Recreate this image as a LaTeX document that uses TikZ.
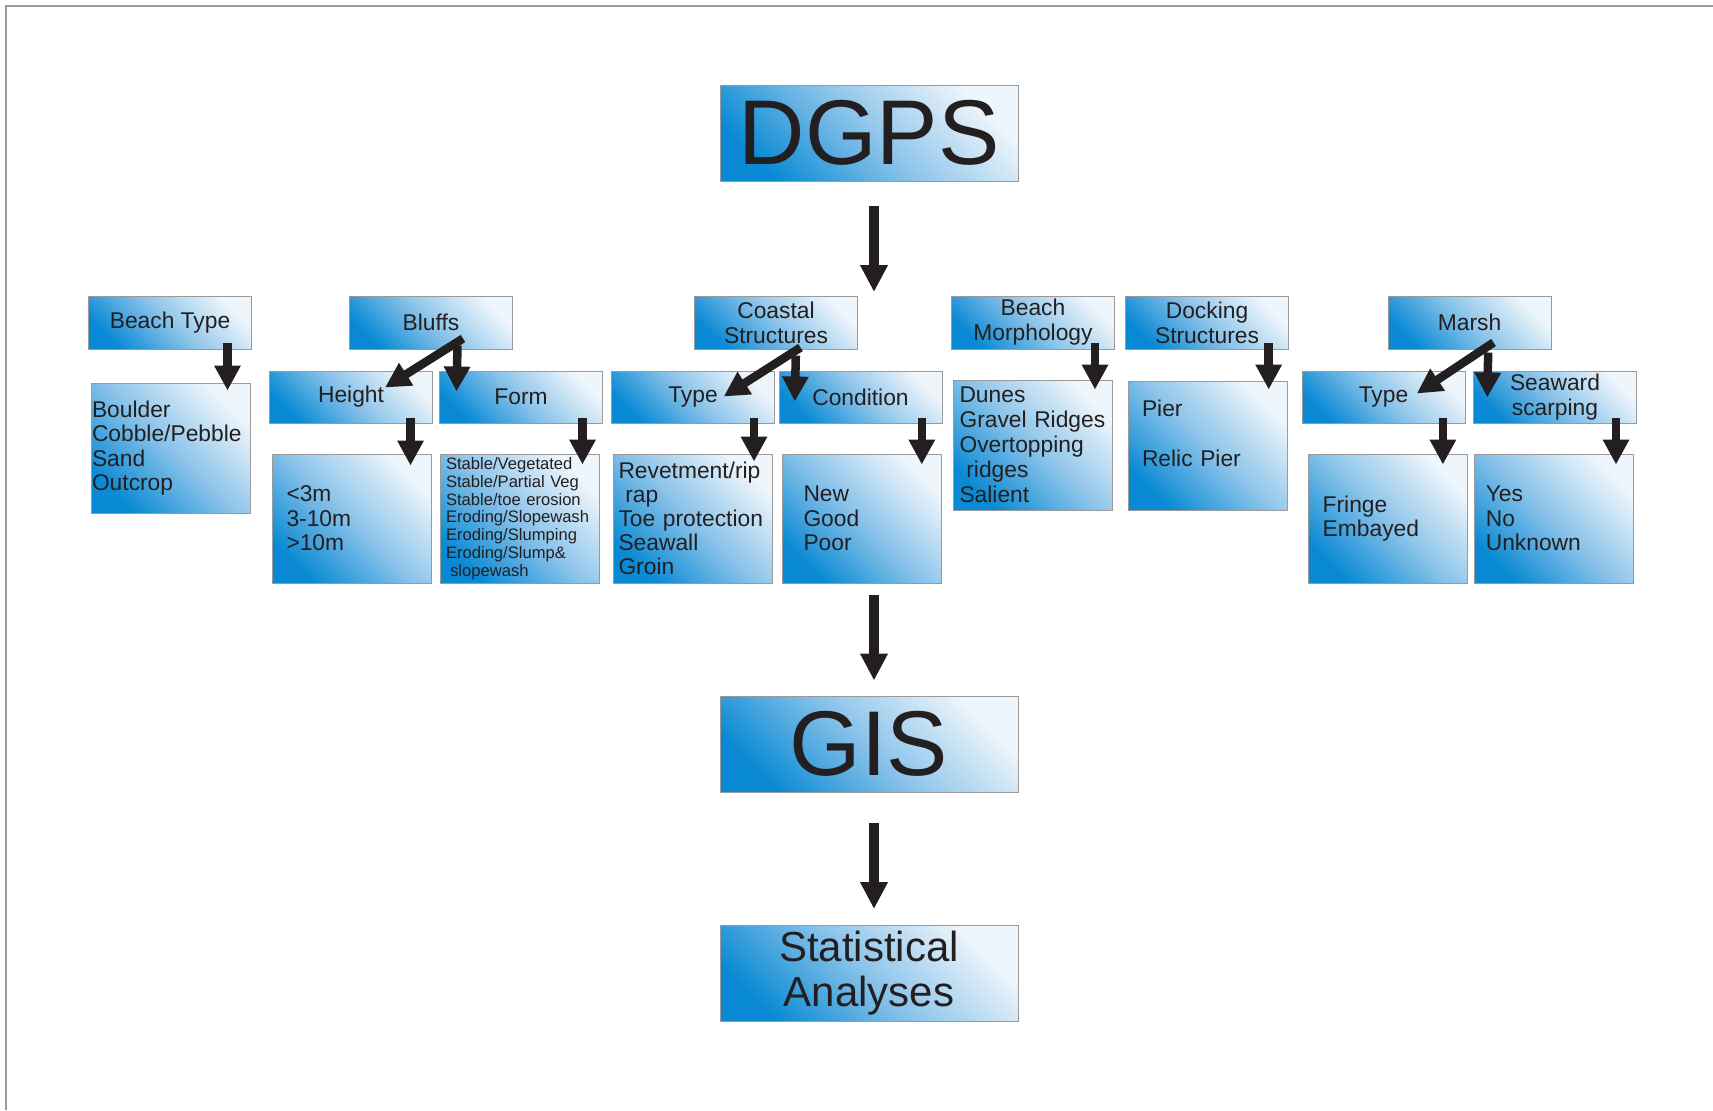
\documentclass[tikz,border=0pt]{standalone}
\usepackage{fontspec}
\setmainfont{Liberation Sans}
\usepackage{xcolor}
\usetikzlibrary{arrows.meta}
\definecolor{BoxDark}{HTML}{0A8AD4}
\definecolor{BoxMid}{HTML}{8CC4EA}
\definecolor{BoxLight}{HTML}{EEF5FB}
\definecolor{BoxEdge}{HTML}{9A9A9A}
\definecolor{InkDark}{HTML}{231F20}
\newcommand{\fsz}[2]{\fontsize{#1}{#2}\selectfont}

\begin{document}
\begin{tikzpicture}[x=0.5pt, y=-0.5pt,
      bx/.style={rectangle, draw=BoxEdge, line width=0.5pt,
                 bottom color=BoxDark, top color=BoxLight, middle color=BoxMid,
                 shading angle=-45, text=InkDark, inner sep=0pt},
      big/.style={bx, minimum width=149pt, minimum height=48pt},
      hd/.style={bx, align=center, font=\fsz{11.4pt}{12.5pt},
                 minimum width=81.5pt, minimum height=26.5pt},
      sub/.style={hd, minimum height=26pt},
      ct/.style={bx, align=left, font=\fsz{11.4pt}{12.3pt},
                 minimum width=79.5pt, minimum height=64.5pt},
      ar/.style={-{Triangle[width=12.5pt,length=12.5pt]}, InkDark, line width=4.25pt},
      bigar/.style={-{Triangle[width=13pt,length=13.5pt]}, InkDark, line width=5pt},
    ]
      \useasboundingbox (0,0) rectangle (1713,1110);
      \draw[BoxEdge, line width=1pt] (6,1110) -- (6,6) -- (1713,6);

      \node[big, font=\fsz{46pt}{48pt}] (dgps) at (869,133) {DGPS};
      \node[big, font=\fsz{46pt}{48pt}] (gis) at (869,744) {GIS};
      \node[big, align=center, font=\fsz{21pt}{22.5pt}] (stat) at (869,973.5) {Statistical\\Analyses};

      \node[hd] (btype)   at (170,322.5)    {Beach Type};
      \node[hd] (bluffs)  at (431,322.5)    {Bluffs};
      \node[hd] (coastal) at (776,322.5)    {Coastal\\Structures};
      \node[hd] (bmorph)  at (1033,322.5)   {Beach\\Morphology};
      \node[hd] (dock)    at (1207,322.5)   {Docking\\Structures};
      \node[hd] (marsh)   at (1469.5,322.5) {Marsh};

      \node[sub] (height)  at (351,397)    {Height};
      \node[sub] (form)    at (521,397)    {Form};
      \node[sub] (ctype)   at (693,397)    {Type};
      \node[sub] (cond)    at (860.5,397)  {Condition};
      \node[sub] (mtype)   at (1383.5,397) {Type};
      \node[sub] (seaward) at (1555,397)   {Seaward\\ scarping};

      \node[ct, minimum height=65pt, text width=78.5pt, inner xsep=0.5pt]
        (bcont) at (170.5,448) {Boulder\\Cobble/Pebble\\Sand\\Outcrop};
      \node[ct, text width=65pt, inner xsep=7.25pt]
        (hcont) at (351.5,518.5) {<3m\\3-10m\\>10m};
      \node[ct, text width=73.5pt, inner xsep=3pt, font=\fsz{8.3pt}{8.9pt}]
        (fcont) at (519.5,518.5) {Stable/Vegetated\\Stable/Partial Veg\\Stable/toe erosion\\Eroding/Slopewash\\Eroding/Slumping\\Eroding/Slump\&\\\hspace*{0.25em}slopewash};
      \node[ct, text width=74.5pt, inner xsep=2.5pt, font=\fsz{11.4pt}{12pt}]
        (tcont) at (693,518.5) {Revetment/rip\\\hspace*{0.3em}rap\\Toe protection\\Seawall\\Groin};
      \node[ct, text width=58pt, inner xsep=10.75pt]
        (ncont) at (861.5,518.5) {New\\Good\\Poor};
      \node[ct, minimum height=65pt, text width=73.5pt, inner xsep=3pt, font=\fsz{11.4pt}{12.5pt}]
        (dunes) at (1033,445) {Dunes\\Gravel Ridges\\Overtopping\\\hspace*{0.3em}ridges\\Salient};
      \node[ct, text width=65.5pt, inner xsep=7pt, font=\fsz{11.4pt}{12.5pt}]
        (pier) at (1207.5,445.5) {Pier\\[12.5pt]Relic Pier\\\mbox{}};
      \node[ct, text width=64.8pt, inner xsep=7.35pt]
        (fringe) at (1387.5,518.5) {Fringe\\Embayed};
      \node[ct, text width=67.7pt, inner xsep=5.9pt]
        (yes) at (1553.5,518.5) {Yes\\No\\Unknown};

      \coordinate (rowtop) at (874,292);
      \coordinate (rowbot) at (874,595);
      \draw[bigar] ([xshift=2.5pt,yshift=-12pt]dgps.south) -- (rowtop);
      \draw[bigar] (rowbot) -- ([xshift=2.5pt,yshift=7.5pt]gis.north);
      \draw[bigar] ([xshift=2.5pt,yshift=-15pt]gis.south) -- ([xshift=2.5pt,yshift=8pt]stat.north);

      \draw[ar] ([xshift=-12.25pt,yshift=3.5pt]btype.south east) -- ([xshift=-11.5pt,yshift=-4pt]bcont.north east);
      \draw[ar] ([xshift=-27.75pt,yshift=2pt]bluffs.south east) -- ([xshift=8.75pt,yshift=-10.5pt]form.north west);
      \draw[ar] ([xshift=-25pt,yshift=5.5pt]bluffs.south east) -- ([xshift=-24pt,yshift=-8.5pt]height.north east);
      \draw[ar] ([xshift=-11.25pt,yshift=3pt]height.south east) -- ([xshift=-10.5pt,yshift=-6pt]hcont.north east);
      \draw[ar] ([xshift=-10.25pt,yshift=3pt]form.south east) -- ([xshift=-8.5pt,yshift=-5.5pt]fcont.north east);
      \draw[ar] ([xshift=-31.1pt,yshift=-3pt]coastal.south east) -- ([xshift=8.15pt,yshift=-15.5pt]cond.north west);
      \draw[ar] ([xshift=-28.75pt,yshift=1pt]coastal.south east) -- ([xshift=-25.65pt,yshift=-13pt]ctype.north east);
      \draw[ar] ([xshift=-10.5pt,yshift=3pt]ctype.south east) -- ([xshift=-9.5pt,yshift=-4pt]tcont.north east);
      \draw[ar] ([xshift=-10.35pt,yshift=3pt]cond.south east) -- ([xshift=-9.85pt,yshift=-5.5pt]ncont.north east);
      \draw[ar] ([xshift=-10pt,yshift=3.5pt]bmorph.south east) -- ([xshift=-9pt,yshift=-5pt]dunes.north east);
      \draw[ar] ([xshift=-10.15pt,yshift=3.5pt]dock.south east) -- ([xshift=-9.4pt,yshift=-4.5pt]pier.north east);
      \draw[ar] ([xshift=-31.65pt,yshift=-1.5pt]marsh.south east) -- ([xshift=7.1pt,yshift=-13.5pt]seaward.north west);
      \draw[ar] ([xshift=-29pt,yshift=3.5pt]marsh.south east) -- ([xshift=-24.35pt,yshift=-11.5pt]mtype.north east);
      \draw[ar] ([xshift=-11.3pt,yshift=3pt]mtype.south east) -- ([xshift=-12.3pt,yshift=-5.5pt]fringe.north east);
      \draw[ar] ([xshift=-10.5pt,yshift=3pt]seaward.south east) -- ([xshift=-8.75pt,yshift=-5.5pt]yes.north east);
    \end{tikzpicture}
\end{document}
